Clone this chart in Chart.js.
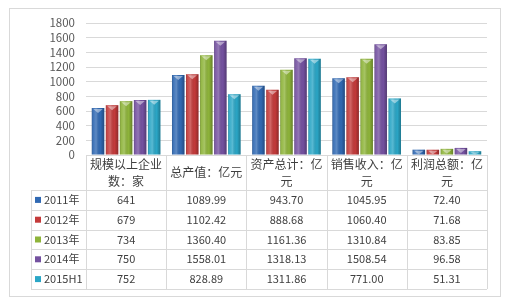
<!DOCTYPE html>
<html>
<head>
<meta charset="utf-8">
<script src="https://cdn.jsdelivr.net/npm/chart.js@4.4.0/dist/chart.umd.min.js"></script>
<style>
  html, body { margin: 0; padding: 0; background: #fff; }
  #wrap { width: 506px; height: 302px; position: relative; }
</style>
</head>
<body>
<div id="wrap"><canvas id="industryChart" width="506" height="302"></canvas></div>
<script>
// 类别（表头）
const categories = [
    ['规模以上企业', '数：家'],
    ['总产值：亿元'],
    ['资产总计：亿', '元'],
    ['销售收入：亿', '元'],
    ['利润总额：亿', '元']
];
const seriesNames = ['2011年', '2012年', '2013年', '2014年', '2015H1'];
const values2011 = [641, 1089.99, 943.70, 1045.95, 72.40];
const values2012 = [679, 1102.42, 888.68, 1060.40, 71.68];
const values2013 = [734, 1360.40, 1161.36, 1310.84, 83.85];
const values2014 = [750, 1558.01, 1318.13, 1508.54, 96.58];
const values2015H1 = [752, 828.89, 1311.86, 771.00, 51.31];
const decimals = [0, 2, 2, 2, 2];
const yMax = 1800;
const yStep = 200;

const seriesValues = [values2011, values2012, values2013, values2014, values2015H1];
const seriesColors = ['#3069B3', '#C43A3A', '#8EB43A', '#7451A0', '#2AA6C6'];

const FONT = '"Noto Sans CJK SC", "Liberation Sans", sans-serif';
const TEXT = '#404040';
const LINE = '#D9D9D9';

// 外框
const frameBorder = {
    id: 'frameBorder',
    beforeDraw(chart) {
        const c = chart.ctx;
        c.save();
        c.strokeStyle = LINE;
        c.lineWidth = 1;
        c.strokeRect(9.5, 8.5, 491, 288);
        c.restore();
    }
};

// 柱子的立体高光
const barShine = {
    id: 'barShine',
    afterDatasetsDraw(chart) {
        const c = chart.ctx;
        c.save();
        chart.data.datasets.forEach((ds, di) => {
            chart.getDatasetMeta(di).data.forEach(bar => {
                const left = bar.x - bar.width / 2;
                const right = bar.x + bar.width / 2;
                const h = bar.base - bar.y;
                if (h <= 0) return;
                const g = c.createLinearGradient(left, 0, right, 0);
                g.addColorStop(0, 'rgba(0,0,0,0.22)');
                g.addColorStop(0.12, 'rgba(255,255,255,0.08)');
                g.addColorStop(0.35, 'rgba(255,255,255,0.22)');
                g.addColorStop(0.7, 'rgba(0,0,0,0.0)');
                g.addColorStop(1, 'rgba(0,0,0,0.28)');
                c.fillStyle = g;
                c.fillRect(left, bar.y, bar.width, h);
                // 顶部三角
                const capH = Math.min(5, h);
                c.fillStyle = 'rgba(255,255,255,0.45)';
                c.beginPath();
                c.moveTo(left + 1.5, bar.y + 1);
                c.lineTo(right - 1.5, bar.y + 1);
                c.lineTo(bar.x, bar.y + capH);
                c.closePath();
                c.fill();
            });
        });
        c.restore();
    }
};

// 数据表
const dataTable = {
    id: 'dataTable',
    afterDraw(chart) {
        const c = chart.ctx;
        const area = chart.chartArea;
        const xs = chart.scales.x;
        const colW = (area.right - area.left) / categories.length;
        const top = area.bottom;
        const headerH = 35;
        const rowH = 19.8;
        const legendLeft = 31;
        const bottom = top + headerH + rowH * seriesNames.length;
        const px = v => Math.round(v) + 0.5;

        c.save();
        c.strokeStyle = LINE;
        c.lineWidth = 1;
        c.beginPath();
        for (let i = 0; i <= categories.length; i++) {
            const x = px(area.left + i * colW);
            c.moveTo(x, top);
            c.lineTo(x, bottom);
        }
        c.moveTo(px(legendLeft), top + headerH);
        c.lineTo(px(legendLeft), bottom);
        c.moveTo(area.left, px(top));
        c.lineTo(area.right, px(top));
        for (let r = 0; r <= seriesNames.length; r++) {
            const y = px(top + headerH + r * rowH);
            c.moveTo(legendLeft, y);
            c.lineTo(area.right, y);
        }
        c.stroke();

        c.fillStyle = TEXT;
        c.textAlign = 'center';
        c.textBaseline = 'middle';
        c.font = '12px ' + FONT;
        categories.forEach((lines, i) => {
            const cx = xs.getPixelForTick(i);
            const mid = top + headerH / 2;
            if (lines.length === 1) {
                c.fillText(lines[0], cx, mid);
            } else {
                c.fillText(lines[0], cx, mid - 8.5);
                c.fillText(lines[1], cx, mid + 8.5);
            }
        });

        seriesNames.forEach((name, r) => {
            const cy = top + headerH + r * rowH + rowH / 2;
            c.fillStyle = seriesColors[r];
            c.fillRect(35, cy - 3, 6, 6);
            c.fillStyle = TEXT;
            c.textAlign = 'left';
            c.font = '11px ' + FONT;
            c.fillText(name, 44, cy);
            c.textAlign = 'center';
            c.font = '11px ' + FONT;
            seriesValues[r].forEach((v, i) => {
                c.fillText(v.toFixed(decimals[i]), xs.getPixelForTick(i), cy);
            });
        });
        c.restore();
    }
};

const ctx = document.getElementById('industryChart').getContext('2d');
new Chart(ctx, {
    type: 'bar',
    data: {
        labels: categories,
        datasets: seriesNames.map((name, i) => ({
            label: name,
            data: seriesValues[i],
            backgroundColor: seriesColors[i],
            borderWidth: 0,
            categoryPercentage: 0.875,
            barPercentage: 0.89
        }))
    },
    options: {
        responsive: false,
        animation: false,
        layout: { padding: { left: 9, right: 19, top: 23, bottom: 147 } },
        plugins: {
            legend: { display: false },
            tooltip: { enabled: false }
        },
        scales: {
            x: { display: false },
            y: {
                min: 0,
                max: yMax,
                border: { display: false },
                grid: { color: LINE, drawTicks: false },
                ticks: {
                    stepSize: yStep,
                    autoSkip: false,
                    padding: 11,
                    color: '#595959',
                    font: { family: FONT, size: 11.5 },
                    callback: v => String(v)
                },
                afterFit(scale) { scale.width = 77; }
            }
        }
    },
    plugins: [frameBorder, barShine, dataTable]
});
</script>
</body>
</html>
